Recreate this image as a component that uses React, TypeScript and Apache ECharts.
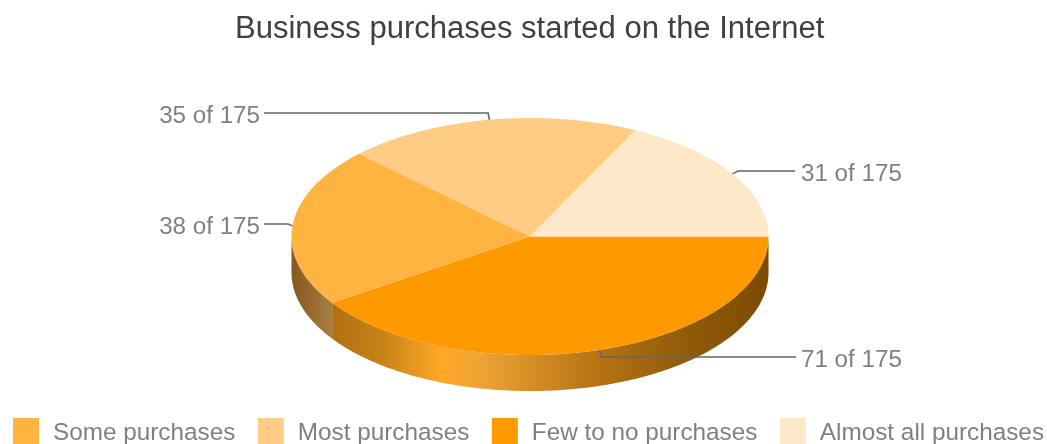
import React, { useEffect, useRef } from "react";
import * as echarts from "echarts";

const titleText = "Business purchases started on the Internet";
// Slices in drawing order, clockwise from 3 o'clock
const sliceNames = ["Few to no purchases", "Some purchases", "Most purchases", "Almost all purchases"];
const sliceValues = [71, 38, 35, 31];
const sliceColors = ["#ff9900", "#ffb340", "#ffcc85", "#ffe8c9"];
const legendOrder = ["Some purchases", "Most purchases", "Few to no purchases", "Almost all purchases"];

const total = sliceValues.reduce((a, b) => a + b, 0);
const FONT = '"Liberation Sans", Arial, sans-serif';
const CX = 530, CY = 236.5, RX = 238.5, RY = 118.5, DEPTH = 36;
const LABEL_COLOR = "#808080";
const LINE_COLOR = "#666666";

const wallStops: Record<string, { offset: number; color: string }[]> = {
  "Few to no purchases": [
    { offset: 0, color: "#b06f12" },
    { offset: 0.12, color: "#c98418" },
    { offset: 0.25, color: "#ffa726" },
    { offset: 0.33, color: "#f0a535" },
    { offset: 0.6, color: "#b87415" },
    { offset: 0.8, color: "#925c0a" },
    { offset: 1, color: "#7c4a00" },
  ],
  "Some purchases": [
    { offset: 0, color: "#86581f" },
    { offset: 1, color: "#a87e42" },
  ],
};

// Label and elbow of each leader line, by slice
const leaders: Record<string, { elbow: [number, number]; end: [number, number]; side: "left" | "right" }> = {
  "Few to no purchases": { elbow: [601, 357], end: [796, 357], side: "right" },
  "Some purchases": { elbow: [288, 224], end: [264, 224], side: "left" },
  "Most purchases": { elbow: [488, 113], end: [264, 113], side: "left" },
  "Almost all purchases": { elbow: [738, 171], end: [795, 171], side: "right" },
};
const labelY: Record<string, number> = {
  "Few to no purchases": 358,
  "Some purchases": 225,
  "Most purchases": 114,
  "Almost all purchases": 172,
};

const pt = (deg: number, dy = 0): number[] => {
  const r = (deg * Math.PI) / 180;
  return [CX + RX * Math.cos(r), CY + RY * Math.sin(r) + dy];
};
const arc = (a0: number, a1: number, dy = 0): number[][] => {
  const n = Math.max(2, Math.ceil(Math.abs(a1 - a0)));
  const out: number[][] = [];
  for (let i = 0; i <= n; i++) out.push(pt(a0 + ((a1 - a0) * i) / n, dy));
  return out;
};

export default function App() {
  const ref = useRef<HTMLDivElement>(null);
  useEffect(() => {
    const chart = echarts.init(ref.current!, undefined, { renderer: "svg" });
    let cum = 0;
    const series = sliceNames.map((name, i) => {
      const start = (cum / total) * 360;
      cum += sliceValues[i];
      const end = (cum / total) * 360;
      return {
        type: "custom",
        name,
        coordinateSystem: "none",
        data: [[sliceValues[i]]],
        itemStyle: { color: sliceColors[i] },
        silent: true,
        renderItem: (_p: any, api: any) => {
          const value = api.value(0);
          const children: any[] = [];
          const wa0 = Math.max(start, 0), wa1 = Math.min(end, 180);
          if (wa1 > wa0 && wallStops[name]) {
            children.push({
              type: "polygon",
              shape: { points: [...arc(wa0, wa1), ...arc(wa1, wa0, DEPTH)] },
              style: { fill: new echarts.graphic.LinearGradient(0, 0, 1, 0, wallStops[name]) },
            });
          }
          children.push({
            type: "polygon",
            shape: { points: [[CX, CY], ...arc(start, end)] },
            style: { fill: sliceColors[i] },
          });
          const lead = leaders[name];
          const mid = (start + end) / 2;
          children.push({
            type: "polyline",
            shape: { points: [pt(mid), lead.elbow, lead.end] },
            style: { stroke: LINE_COLOR, lineWidth: 1.6, fill: "none" },
          });
          children.push({
            type: "text",
            style: {
              text: `${value} of ${total}`,
              x: lead.side === "left" ? 260 : 801,
              y: labelY[name],
              align: lead.side === "left" ? "right" : "left",
              verticalAlign: "middle",
              fontSize: 24.2,
              fontFamily: FONT,
              fill: LABEL_COLOR,
            },
          });
          return { type: "group", children };
        },
      };
    });
    chart.setOption({
      animation: false,
      title: {
        text: titleText,
        left: 235,
        top: 12,
        padding: 0,
        textStyle: { fontSize: 31, fontWeight: "normal", fontFamily: FONT, color: "#404040" },
      },
      legend: {
        data: legendOrder.map((name) => ({ name, icon: "rect" })),
        left: 13,
        top: 418,
        padding: 0,
        itemWidth: 26,
        itemHeight: 26,
        itemGap: 22.5,
        selectedMode: false,
        textStyle: { fontSize: 24.3, fontFamily: FONT, color: LABEL_COLOR, padding: [0, 0, 4, 9] },
      },
      series,
    });
    return () => chart.dispose();
  }, []);
  return <div ref={ref} style={{ position: "absolute", left: 0, top: 0, width: 1047, height: 444, filter: "blur(0.5px)" }} />;
}
